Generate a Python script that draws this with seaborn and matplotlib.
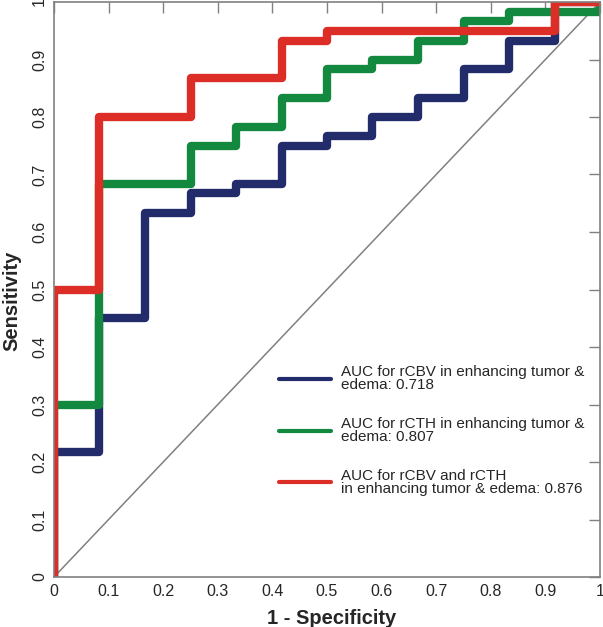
import numpy as np
import pandas as pd
import matplotlib
matplotlib.use('Agg')
import matplotlib.pyplot as plt
import seaborn as sns

# ROC step corners (1 - specificity, sensitivity)
fpr_cbv = [0, 0, 0.083, 0.167, 0.25, 0.333, 0.417, 0.5, 0.583, 0.667, 0.75, 0.833, 0.917, 1.0]
tpr_cbv = [0, 0.217, 0.45, 0.633, 0.667, 0.683, 0.75, 0.767, 0.8, 0.833, 0.883, 0.933, 1.0, 1.0]

fpr_cth = [0, 0, 0.083, 0.25, 0.333, 0.417, 0.5, 0.583, 0.667, 0.75, 0.833, 1.0, 1.0]
tpr_cth = [0, 0.3, 0.683, 0.75, 0.783, 0.833, 0.883, 0.9, 0.933, 0.967, 0.983, 0.983, 1.0]

fpr_both = [0, 0, 0.083, 0.25, 0.417, 0.5, 0.917, 1.0]
tpr_both = [0, 0.5, 0.8, 0.867, 0.933, 0.95, 1.0, 1.0]

labels = ['AUC for rCBV in enhancing tumor &\nedema: 0.718',
          'AUC for rCTH in enhancing tumor &\nedema: 0.807',
          'AUC for rCBV and rCTH\nin enhancing tumor & edema: 0.876']
colors = ['#232c6b', '#13893f', '#dc2e26']
ticklabels = ['0', '0.1', '0.2', '0.3', '0.4', '0.5', '0.6', '0.7', '0.8', '0.9', '1']

sns.set_style('white')
plt.rcParams['font.family'] = ['Liberation Sans', 'DejaVu Sans']

fig = plt.figure(figsize=(6.03, 6.27), dpi=100)
ax = fig.add_axes([54/603, 50/627, 546/603, 575/627])

ax.plot([0, 1], [0, 1], color='#808080', lw=1.1, zorder=1)

curves = [(fpr_cbv, tpr_cbv), (fpr_cth, tpr_cth), (fpr_both, tpr_both)]
for (fx, ty), lab, col in zip(curves, labels, colors):
    df = pd.DataFrame({'fpr': fx, 'tpr': ty})
    sns.lineplot(data=df, x='fpr', y='tpr', sort=False, estimator=None,
                 drawstyle='steps-post', color=col, lw=6, label=lab, ax=ax,
                 zorder=2)

ax.set_xlim(0, 1)
ax.set_ylim(0, 1)
ax.set_xticks(np.arange(0, 1.01, 0.1))
ax.set_yticks(np.arange(0, 1.01, 0.1))
ax.set_xticklabels(ticklabels)
ax.set_yticklabels(ticklabels, rotation=90, va='center')
ax.tick_params(direction='in', length=8, width=1, color='#808080',
               top=True, right=True, labelsize=11.5, pad=5)
for s in ax.spines.values():
    s.set_color('#808080')
    s.set_linewidth(1.2)

ax.set_xlabel('1 - Specificity', fontsize=14.5, fontweight='bold')
ax.set_ylabel('Sensitivity', fontsize=14.5, fontweight='bold')
ax.xaxis.set_label_coords(0.509, -0.056)
ax.yaxis.set_label_coords(-0.059, 0.48)

leg = ax.legend(loc='lower left', bbox_to_anchor=(0.386, 0.117), frameon=False,
                fontsize=11, handlelength=3.45, handletextpad=0.65,
                labelspacing=1.6)
for line in leg.get_lines():
    line.set_linewidth(3)
for t in leg.get_texts():
    t.set_linespacing(0.95)

fig.savefig('out.png', dpi=100)
